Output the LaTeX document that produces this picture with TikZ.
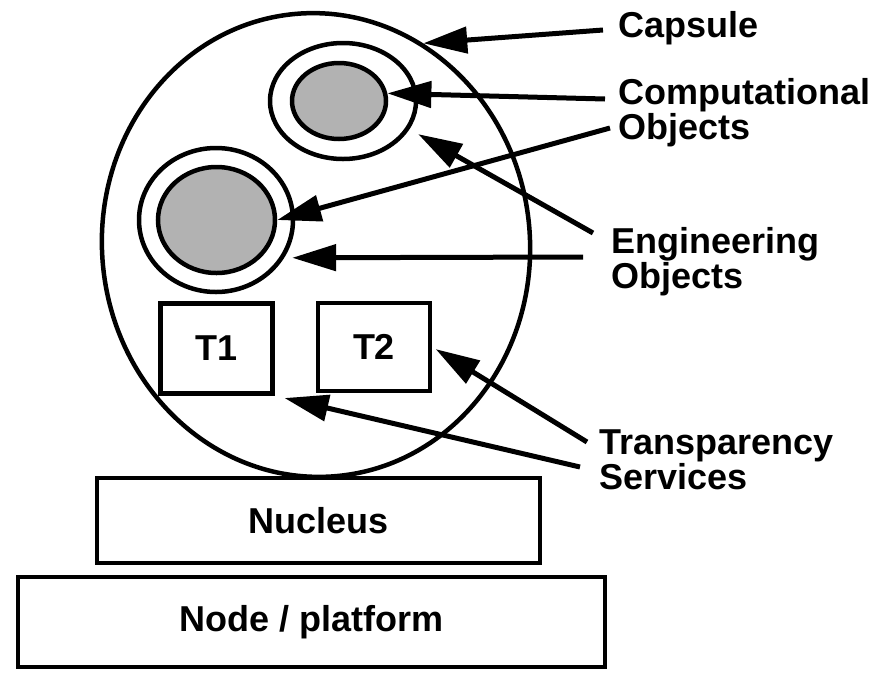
\documentclass[tikz,border=0pt]{standalone}
\usepackage{fontspec}
\setmainfont{Liberation Sans}
\usetikzlibrary{arrows.meta,shapes.geometric}
\begin{document}
\begin{tikzpicture}[x=1pt,y=-1pt,
	font=\fontsize{36}{35}\selectfont\bfseries,
	shell/.style={draw,ellipse,line width=4.5pt,inner sep=0pt},
	core/.style={shell,fill=black!30},
	box/.style={draw,rectangle,line width=4.5pt,inner sep=0pt},
	lbl/.style={anchor=west,align=left,inner sep=0pt},
	pointer/.style={line width=5pt,-{Triangle[length=44pt,width=26pt]}}]
	
	\useasboundingbox (0,0) rectangle (885,673);
	
	% Capsule, Nucleus und Node
	\node[shell,minimum width=428pt,minimum height=464pt,rotate=5] (capsule) at (316,245) {};
	\node[box,minimum width=443pt,minimum height=85pt] (nucleus) at (318.5,520.5) {Nucleus};
	\node[box,minimum width=587pt,minimum height=90pt] (platform) at (311.5,622) {Node / platform};
	
	% Objekte im Capsule
	\node[shell,minimum width=146pt,minimum height=116pt] (eo1) at (343,101) {};
	\node[core,minimum width=94pt,minimum height=76pt] (co1) at (339,101) {};
	\node[shell,minimum width=154pt,minimum height=144pt] (eo2) at (216,220) {};
	\node[core,minimum width=117pt,minimum height=106pt] (co2) at (216.5,220) {};
	
	% Transparency services
	\node[box,minimum width=112pt,minimum height=90pt] (t1) at (216.5,348.5) {T1};
	\node[box,minimum width=112pt,minimum height=88pt] (t2) at (374,347) {T2};
	
	% Beschriftungen
	\node[lbl,anchor=base west] (caps) at (618,37) {Capsule};
	\node[lbl] (comp) at (618,113) {Computational\\Objects};
	\node[lbl] (eng) at (611,262) {Engineering\\Objects};
	\node[lbl] (trans) at (599,460) {Transparency\\Services};
	
	% Anfangspunkte der Pfeile
	\coordinate (caps-s) at (603,30);
	\coordinate (comp-a) at (605,99);
	\coordinate (comp-b) at (610,128);
	\coordinate (eng-a) at (593,233);
	\coordinate (eng-b) at (583,257);
	\coordinate (trans-a) at (587,442);
	\coordinate (trans-b) at (580,467);
	
	% Pfeile
	\draw[pointer] (caps-s) -- (capsule.57);
	\draw[pointer] (comp-a) -- (co1.9);
	\draw[pointer] (comp-b) -- (co2.east);
	\draw[pointer,shorten >=10pt] (eng-a) -- (eo1.-23);
	\draw[pointer,shorten >=8pt] (eng-b) -- (eo2.-29);
	\draw[pointer,shorten >=4pt] (trans-a) -- (t2.east);
	\draw[pointer,shorten >=10pt] (trans-b) -- (t1.south east);
	
\end{tikzpicture}
\end{document}
